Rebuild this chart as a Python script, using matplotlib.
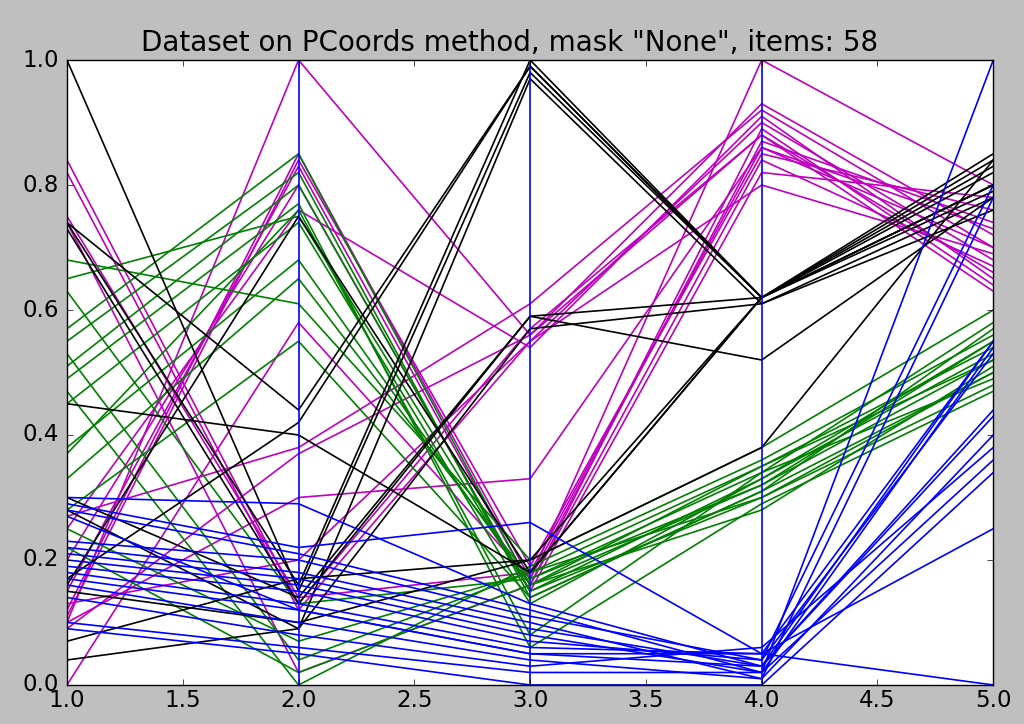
import matplotlib
matplotlib.use("Agg")
import matplotlib.pyplot as plt

plt.style.use("classic")

axes_x = [1, 2, 3, 4, 5]

magenta_rows = [
    [0.10, 1.00, 0.56, 0.93, 0.72],
    [0.84, 0.13, 0.57, 0.88, 0.66],
    [0.82, 0.12, 0.55, 0.90, 0.68],
    [0.75, 0.14, 0.18, 0.86, 0.70],
    [0.74, 0.02, 0.16, 0.89, 0.64],
    [0.12, 0.85, 0.17, 0.87, 0.74],
    [0.11, 0.84, 0.19, 0.85, 0.76],
    [0.15, 0.83, 0.16, 0.84, 0.67],
    [0.20, 0.80, 0.15, 0.82, 0.78],
    [0.25, 0.76, 0.54, 0.91, 0.65],
    [0.00, 0.58, 0.17, 1.00, 0.80],
    [0.27, 0.38, 0.61, 0.92, 0.70],
    [0.09, 0.37, 0.56, 0.88, 0.63],
    [0.10, 0.30, 0.33, 0.86, 0.73],
    [0.13, 0.20, 0.55, 0.80, 0.69],
]

green_rows = [
    [0.68, 0.61, 0.20, 0.38, 0.60],
    [0.65, 0.75, 0.15, 0.33, 0.55],
    [0.63, 0.13, 0.17, 0.34, 0.58],
    [0.57, 0.85, 0.16, 0.32, 0.52],
    [0.55, 0.82, 0.14, 0.31, 0.50],
    [0.53, 0.04, 0.18, 0.35, 0.54],
    [0.51, 0.80, 0.15, 0.30, 0.48],
    [0.49, 0.77, 0.06, 0.29, 0.47],
    [0.47, 0.00, 0.19, 0.36, 0.56],
    [0.45, 0.74, 0.13, 0.33, 0.53],
    [0.38, 0.68, 0.16, 0.28, 0.51],
    [0.37, 0.76, 0.08, 0.34, 0.49],
    [0.33, 0.65, 0.17, 0.32, 0.55],
    [0.28, 0.55, 0.14, 0.31, 0.57],
    [0.25, 0.07, 0.18, 0.30, 0.50],
    [0.22, 0.02, 0.16, 0.35, 0.52],
]

black_rows = [
    [1.00, 0.15, 0.98, 0.62, 0.83],
    [0.74, 0.16, 1.00, 0.62, 0.85],
    [0.16, 0.75, 0.18, 0.62, 0.80],
    [0.73, 0.13, 0.59, 0.52, 0.78],
    [0.45, 0.40, 0.18, 0.62, 0.80],
    [0.30, 0.14, 0.59, 0.62, 0.82],
    [0.28, 0.09, 0.97, 0.61, 0.78],
    [0.74, 0.44, 0.99, 0.62, 0.84],
    [0.15, 0.10, 0.20, 0.38, 0.84],
    [0.07, 0.17, 0.20, 0.62, 0.80],
    [0.04, 0.09, 0.57, 0.61, 0.76],
    [0.17, 0.42, 0.99, 0.62, 0.79],
]

blue_rows = [
    [0.30, 0.29, 0.13, 0.03, 0.44],
    [0.29, 0.22, 0.26, 0.05, 0.00],
    [0.28, 0.21, 0.12, 0.02, 1.00],
    [0.23, 0.20, 0.11, 0.04, 0.80],
    [0.22, 0.18, 0.10, 0.01, 0.78],
    [0.21, 0.17, 0.09, 0.03, 0.55],
    [0.20, 0.16, 0.08, 0.02, 0.54],
    [0.19, 0.15, 0.07, 0.04, 0.53],
    [0.18, 0.13, 0.06, 0.05, 0.55],
    [0.17, 0.12, 0.05, 0.03, 0.43],
    [0.16, 0.10, 0.04, 0.01, 0.40],
    [0.14, 0.08, 0.03, 0.06, 0.38],
    [0.10, 0.06, 0.02, 0.02, 0.36],
    [0.09, 0.05, 0.00, 0.00, 0.34],
    [0.27, 0.12, 0.05, 0.05, 0.25],
]

groups = [
    (magenta_rows, "m"),
    (green_rows, "g"),
    (black_rows, "k"),
    (blue_rows, "b"),
]

title = 'Dataset on PCoords method, mask "None", items: 58'

fig = plt.figure(figsize=(10.24, 7.24), dpi=100)
fig.patch.set_facecolor("#bfbfbf")
ax = fig.add_axes([0.0654, 0.0539, 0.9046, 0.8632])

for rows, color in groups:
    for row in rows:
        ax.plot(axes_x, row, color=color, linewidth=1.2)

for xv in axes_x[1:-1]:
    ax.axvline(xv, color="b", linewidth=1.2)

ax.set_xlim(1, 5)
ax.set_ylim(0, 1)
ax.set_xticks([1.0, 1.5, 2.0, 2.5, 3.0, 3.5, 4.0, 4.5, 5.0])
ax.set_yticks([0.0, 0.2, 0.4, 0.6, 0.8, 1.0])
ax.tick_params(axis="x", labelsize=16.5, pad=3)
ax.tick_params(axis="y", labelsize=16.5, pad=6)
fig.text(0.498, 0.930, title, fontsize=20, ha="center", va="baseline")

fig.savefig("out.png", dpi=100, facecolor=fig.get_facecolor())
